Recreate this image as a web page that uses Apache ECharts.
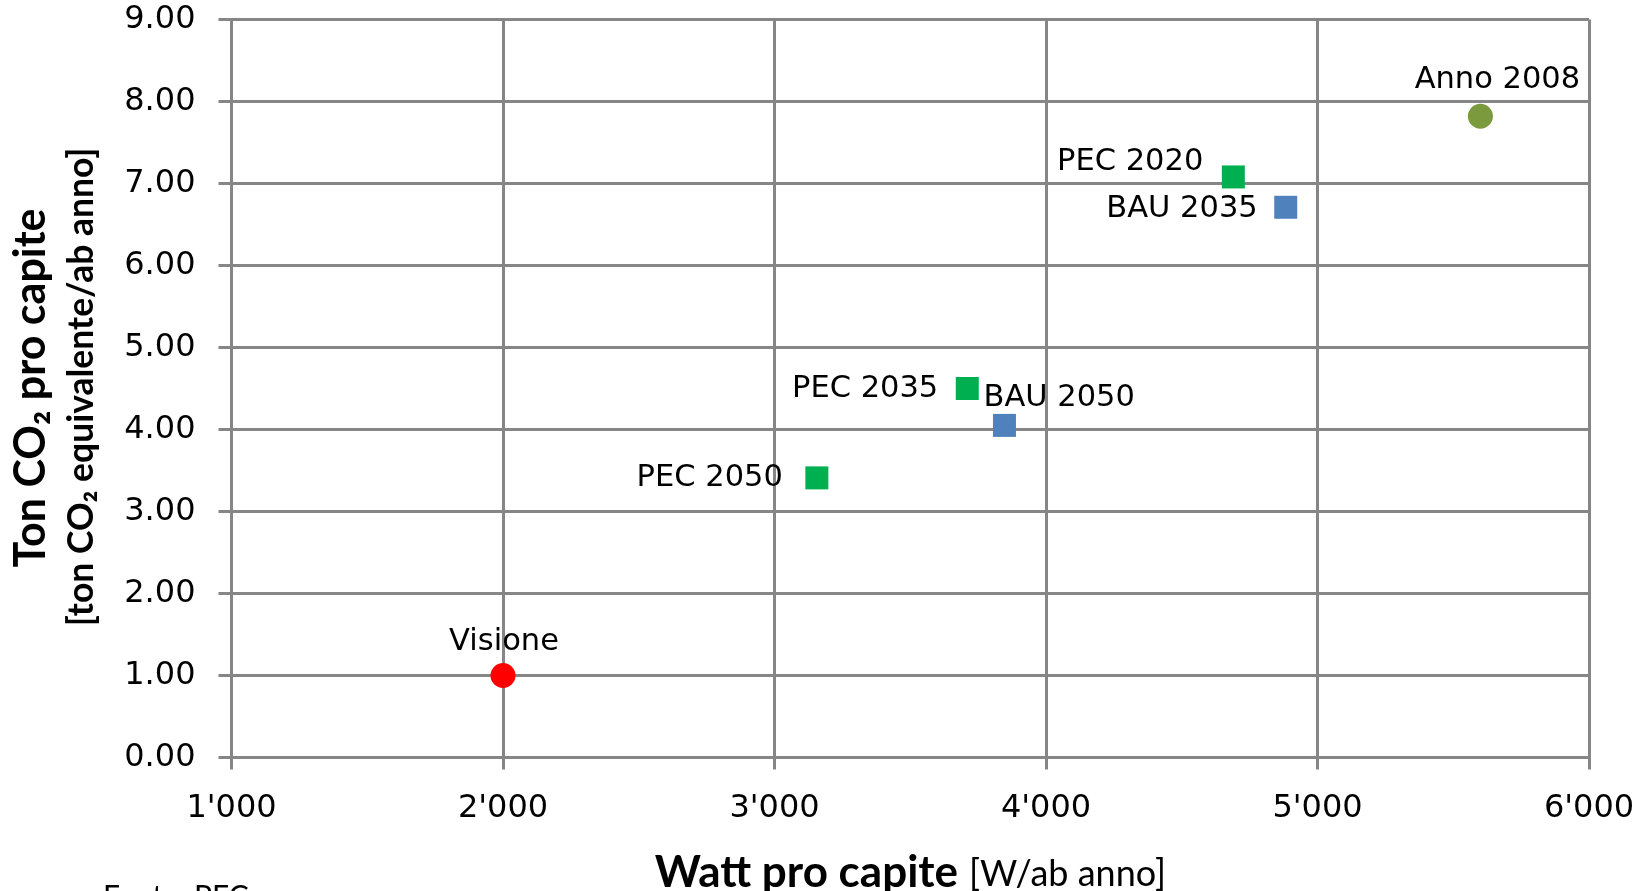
<!DOCTYPE html>
<html>
<head>
<meta charset="utf-8">
<script src="https://cdn.jsdelivr.net/npm/echarts@6/dist/echarts.min.js"></script>
<style>
html, body { margin: 0; padding: 0; background: #fff; }
#chart { width: 1646px; height: 891px; }
</style>
</head>
<body>
<div id="chart"></div>
<script>
// punti (W pro capite, t CO2 pro capite)
const pointNames = ['Anno 2008', 'PEC 2020', 'BAU 2035', 'PEC 2035', 'BAU 2050', 'PEC 2050', 'Visione']
const pointGroups = ['anno', 'pec', 'bau', 'pec', 'bau', 'pec', 'visione']
const wattValues = [5600, 4690, 4883, 3710, 3847, 3156, 2000]
const co2Values = [7.82, 7.08, 6.71, 4.50, 4.05, 3.41, 1.00]

// assi
const xTicks = [1000, 2000, 3000, 4000, 5000, 6000]
const yTicks = [0, 1, 2, 3, 4, 5, 6, 7, 8, 9]

const gridColor = '#868686'
const tickFont = 'DejaVu Sans'

// stile dei marker per gruppo
const groupStyle = {
    anno: { symbol: 'circle', size: 25, color: '#7b9a3d' },
    pec: { symbol: 'rect', size: 23, color: '#00b050' },
    bau: { symbol: 'rect', size: 23, color: '#4f81bd' },
    visione: { symbol: 'circle', size: 25, color: '#ff0000' },
}

// posizione etichette rispetto al centro del punto
const labelPos = {
    'Anno 2008': { align: 'center', dx: 17, dy: -36 },
    'PEC 2020': { align: 'right', dx: -30, dy: -15 },
    'BAU 2035': { align: 'right', dx: -28, dy: 2 },
    'PEC 2035': { align: 'right', dx: -29, dy: 1 },
    'BAU 2050': { align: 'left', dx: -21, dy: -27 },
    'PEC 2050': { align: 'right', dx: -34, dy: 0 },
    'Visione': { align: 'center', dx: 1, dy: -33 },
}

function fmtThousands(v) {
    const s = String(Math.round(v))
    return s.length > 3 ? s.slice(0, -3) + "'" + s.slice(-3) : s
}

function getSeries() {
    const groups = ['anno', 'pec', 'bau', 'visione']
    return groups.map(function (g) {
        const st = groupStyle[g]
        const data = []
        for (let i = 0; i < pointNames.length; i++) {
            if (pointGroups[i] !== g) continue
            const lp = labelPos[pointNames[i]]
            data.push({
                name: pointNames[i],
                value: [wattValues[i], co2Values[i]],
                label: {
                    show: true,
                    position: 'inside',
                    offset: [lp.dx, lp.dy],
                    align: lp.align,
                    verticalAlign: 'middle',
                    formatter: '{b}',
                    color: '#000',
                    textBorderWidth: 0,
                    fontFamily: tickFont,
                    fontSize: 30.5,
                },
            })
        }
        return {
            type: 'scatter',
            name: g,
            symbol: st.symbol,
            symbolSize: st.size,
            itemStyle: { color: st.color, opacity: 1 },
            emphasis: { disabled: true },
            data: data,
        }
    })
}

function draw() {
    const chart = echarts.init(document.getElementById('chart'), null, { renderer: 'canvas' })
    const axisLineStyle = { color: gridColor, width: 3 }
    chart.setOption({
        animation: false,
        backgroundColor: '#fff',
        grid: { left: 231.5, right: 57, top: 19.5, bottom: 133.5, containLabel: false },
        xAxis: {
            type: 'value',
            min: xTicks[0],
            max: xTicks[xTicks.length - 1],
            interval: xTicks[1] - xTicks[0],
            axisLine: { show: true, onZero: false, lineStyle: axisLineStyle },
            axisTick: { show: true, length: 12, lineStyle: axisLineStyle },
            splitLine: { show: true, lineStyle: axisLineStyle },
            axisLabel: {
                margin: 35,
                color: '#000',
                fontFamily: tickFont,
                fontSize: 32,
                formatter: fmtThousands,
            },
        },
        yAxis: {
            type: 'value',
            min: yTicks[0],
            max: yTicks[yTicks.length - 1],
            interval: yTicks[1] - yTicks[0],
            axisLine: { show: true, onZero: false, lineStyle: axisLineStyle },
            axisTick: { show: true, length: 13, lineStyle: axisLineStyle },
            splitLine: { show: true, lineStyle: axisLineStyle },
            axisLabel: {
                margin: 36,
                color: '#000',
                fontFamily: tickFont,
                fontSize: 32,
                padding: [9, 0, 0, 0],
                formatter: function (v) { return v.toFixed(2) },
            },
        },
        graphic: [
            {
                type: 'text', x: 31, y: 388, rotation: Math.PI / 2,
                style: {
                    text: 'Ton CO₂ pro capite', fill: '#000',
                    font: 'bold 43px Lato', align: 'center', verticalAlign: 'middle',
                },
            },
            {
                type: 'text', x: 82, y: 387, rotation: Math.PI / 2,
                style: {
                    text: '[ton CO₂ equivalente/ab anno]', fill: '#000',
                    font: 'bold 35.5px Lato', align: 'center', verticalAlign: 'middle',
                },
            },
            {
                type: 'text', x: 958, y: 873,
                style: {
                    text: 'Watt pro capite', fill: '#000',
                    font: 'bold 44px Lato', align: 'right', verticalAlign: 'middle',
                },
            },
            {
                type: 'text', x: 969, y: 874,
                style: {
                    text: '[W/ab anno]', fill: '#000',
                    font: '36px Lato', align: 'left', verticalAlign: 'middle',
                },
            },
            {
                type: 'text', x: 103, y: 882,
                style: {
                    text: 'Fonte: PEC', fill: '#000',
                    font: '30px Lato', align: 'left', verticalAlign: 'top',
                },
            },
        ],
        series: getSeries(),
    })
}

draw()
</script>
</body>
</html>
